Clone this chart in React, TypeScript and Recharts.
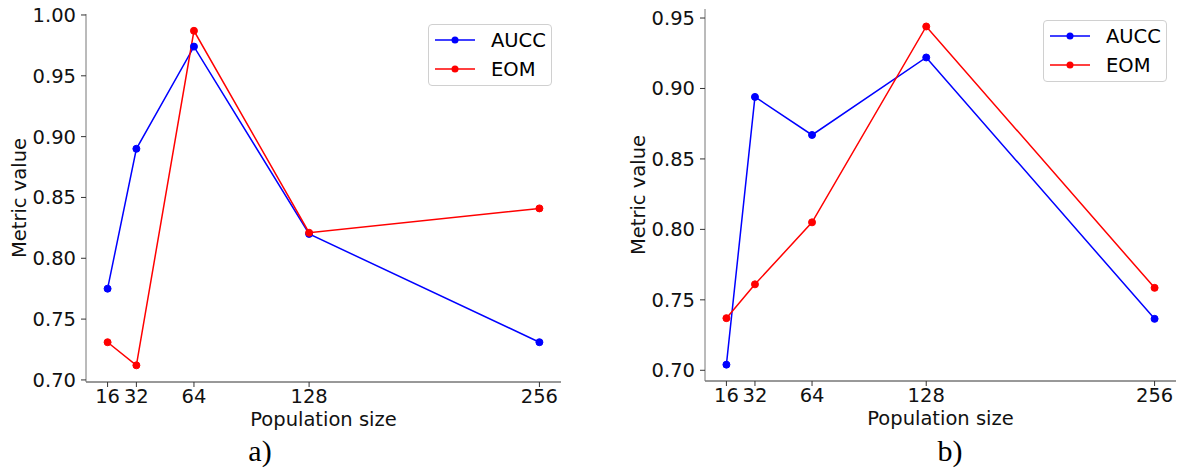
import React from 'react';
import { LineChart, Line, XAxis, YAxis, Legend } from 'recharts';

const sizes = [16, 32, 64, 128, 256];
const aAucc = [0.775, 0.890, 0.974, 0.820, 0.731];
const aEom = [0.731, 0.712, 0.987, 0.821, 0.841];
const bAucc = [0.704, 0.894, 0.867, 0.922, 0.7365];
const bEom = [0.737, 0.761, 0.805, 0.944, 0.7585];
const aYTicks = [0.70, 0.75, 0.80, 0.85, 0.90, 0.95, 1.00];
const bYTicks = [0.70, 0.75, 0.80, 0.85, 0.90, 0.95];
const seriesNames = ['AUCC', 'EOM'];
const seriesColors = ['#0000ff', '#ff0000'];

const FONT = '"DejaVu Sans", sans-serif';
const FS = 19.5;

const build = (a: number[], b: number[]) =>
  sizes.map((s, i) => ({ size: s, AUCC: a[i], EOM: b[i] }));

const LegendBox = () => (
  <div
    style={{
      position: 'relative',
      width: 124,
      height: 62,
      border: '1px solid #d0d0d0',
      borderRadius: 4,
      background: 'rgba(255,255,255,0.8)',
      fontFamily: FONT,
      fontSize: FS,
      color: '#000',
      boxSizing: 'border-box',
    }}
  >
    {seriesNames.map((n, i) => (
      <div key={n} style={{ position: 'absolute', left: 0, top: 3 + i * 29, height: 24, display: 'flex', alignItems: 'center' }}>
        <svg width={60} height={24}>
          <line x1={6} x2={46} y1={12} y2={12} stroke={seriesColors[i]} strokeWidth={1.5} />
          <circle cx={26} cy={12} r={3.5} fill={seriesColors[i]} />
        </svg>
        <span style={{ marginLeft: 2 }}>{n}</span>
      </div>
    ))}
  </div>
);

type PanelProps = {
  data: any[];
  yDomain: [number, number];
  yTicks: number[];
  left: number;
  width: number;
  margin: { top: number; right: number; bottom: number; left: number };
  legendPos: { left: number; top: number };
  xDomain: [number, number];
};

const Panel = ({ data, yDomain, yTicks, left, width, margin, legendPos, xDomain }: PanelProps) => (
  <div style={{ position: 'absolute', left, top: 0 }}>
    <LineChart width={width} height={471} data={data} margin={margin}>
      <XAxis
        dataKey="size"
        type="number"
        domain={xDomain}
        allowDataOverflow
        ticks={sizes}
        interval={0}
        stroke="#333"
        tickLine={{ stroke: '#333' }}
        tickSize={5}
        tickMargin={2}
        height={40}
        tick={{ fill: '#111', fontSize: FS, fontFamily: FONT }}
        label={{ value: 'Population size', position: 'insideBottom', offset: -4, fill: '#111', fontSize: FS, fontFamily: FONT }}
      />
      <YAxis
        type="number"
        domain={yDomain}
        allowDataOverflow
        ticks={yTicks}
        interval={0}
        tickFormatter={(v: number) => v.toFixed(2)}
        stroke="#777"
        tickLine={{ stroke: '#333' }}
        tickSize={5}
        tickMargin={5}
        width={60}
        tick={{ fill: '#111', fontSize: FS, fontFamily: FONT }}
        label={{ value: 'Metric value', angle: -90, position: 'insideLeft', offset: -7, fill: '#111', fontSize: FS, fontFamily: FONT, style: { textAnchor: 'middle' } }}
      />
      <Legend
        layout="vertical"
        align="center"
        verticalAlign="middle"
        content={<LegendBox />}
        wrapperStyle={{ position: 'absolute', left: legendPos.left, top: legendPos.top, width: 124, height: 62 }}
      />
      {seriesNames.map((n, i) => (
        <Line
          key={n}
          type="linear"
          dataKey={n}
          stroke={seriesColors[i]}
          strokeWidth={1.5}
          dot={{ r: 3.5, fill: seriesColors[i], stroke: seriesColors[i], strokeWidth: 1 }}
          activeDot={false}
          isAnimationActive={false}
        />
      ))}
    </LineChart>
  </div>
);

export default function App() {
  return (
    <div style={{ position: 'absolute', left: 0, top: 0, width: 1180, height: 471, background: '#fff', overflow: 'hidden' }}>
      <Panel
        data={build(aAucc, aEom)}
        yDomain={[0.6983, 1.0008]}
        yTicks={aYTicks}
        xDomain={[4, 268]}
        left={0}
        width={590}
        margin={{ top: 14, right: 29, bottom: 49, left: 26 }}
        legendPos={{ left: 428, top: 24 }}
      />
      <Panel
        data={build(bAucc, bEom)}
        yDomain={[0.6924, 0.9564]}
        yTicks={bYTicks}
        xDomain={[4, 268]}
        left={590}
        width={590}
        margin={{ top: 9, right: 4, bottom: 50, left: 55 }}
        legendPos={{ left: 453, top: 20 }}
      />
      <div style={{ position: 'absolute', left: 235, top: 434, width: 50, textAlign: 'center', fontFamily: '"Liberation Serif", serif', fontSize: 30, lineHeight: '34px' }}>a)</div>
      <div style={{ position: 'absolute', left: 925, top: 434, width: 50, textAlign: 'center', fontFamily: '"Liberation Serif", serif', fontSize: 30, lineHeight: '34px' }}>b)</div>
    </div>
  );
}
